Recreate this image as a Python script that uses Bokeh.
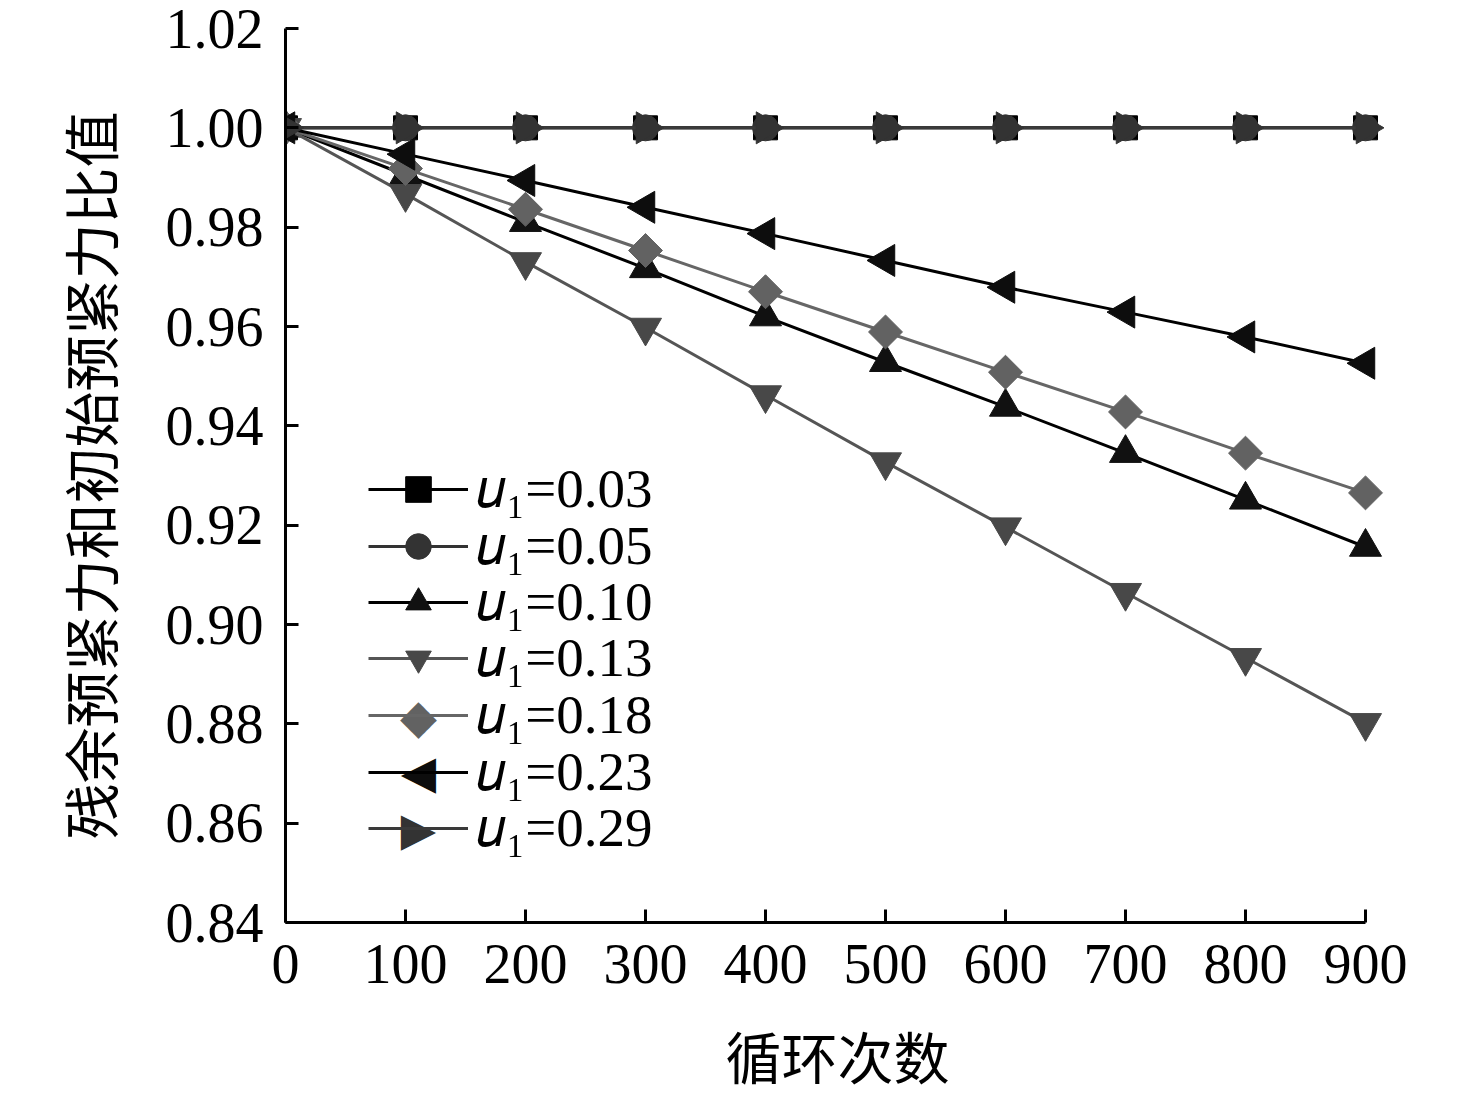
import math
from bokeh.plotting import figure
from bokeh.models import FixedTicker, PrintfTickFormatter, Legend, LegendItem, Label
from bokeh.embed import file_html
from bokeh.resources import INLINE

# ---- data ----
cycles = [0, 100, 200, 300, 400, 500, 600, 700, 800, 900]
u_labels = ["0.03", "0.05", "0.10", "0.13", "0.18", "0.23", "0.29"]
r_003 = [1.000, 1.000, 1.000, 1.000, 1.000, 1.000, 1.000, 1.000, 1.000, 1.000]
r_005 = [1.000, 1.000, 1.000, 1.000, 1.000, 1.000, 1.000, 1.000, 1.000, 1.000]
r_010 = [1.000, 0.9905, 0.9810, 0.9717, 0.9620, 0.9528, 0.9438, 0.9345, 0.9251, 0.9156]
r_013 = [1.000, 0.9867, 0.9730, 0.9598, 0.9462, 0.9327, 0.9196, 0.9064, 0.8933, 0.8802]
r_018 = [1.000, 0.9918, 0.9836, 0.9753, 0.9670, 0.9589, 0.9508, 0.9428, 0.9345, 0.9265]
r_023 = [1.000, 0.9947, 0.9894, 0.9840, 0.9787, 0.9733, 0.9679, 0.9629, 0.9579, 0.9526]
r_029 = [1.000, 1.000, 1.000, 1.000, 1.000, 1.000, 1.000, 1.000, 1.000, 1.000]
y_ticks = [0.84, 0.86, 0.88, 0.90, 0.92, 0.94, 0.96, 0.98, 1.00, 1.02]
x_ticks = [0, 100, 200, 300, 400, 500, 600, 700, 800, 900]

series = [r_003, r_005, r_010, r_013, r_018, r_023, r_029]
# sym: unicode symbol used for the legend sample where Bokeh's legend cannot rotate the marker
styles = [
    dict(marker="square", angle=0.0, size=24, fill="#000000", line="#000000", sym=None, fs=0),
    dict(marker="circle", angle=0.0, size=26, fill="#333333", line="#333333", sym=None, fs=0),
    dict(marker="triangle", angle=0.0, size=32, fill="#111111", line="#000000", sym=None, fs=0),
    dict(marker="inverted_triangle", angle=0.0, size=32, fill="#484848", line="#555555", sym=None, fs=0),
    dict(marker="square", angle=math.pi / 4, size=24, fill="#626262", line="#666666", sym="◆", fs=48),
    dict(marker="triangle", angle=math.pi / 2, size=32, fill="#0d0d0d", line="#000000", sym="◀", fs=46),
    dict(marker="triangle", angle=-math.pi / 2, size=32, fill="#333333", line="#3a3a3a", sym="▶", fs=46),
]

SERIF = "Liberation Serif"
CJK = "Noto Sans CJK SC"

p = figure(width=1460, height=1097, x_range=(0, 920), y_range=(0.84, 1.02),
           output_backend="svg", toolbar_location=None,
           min_border_left=285, min_border_right=71,
           min_border_top=28, min_border_bottom=174)

p.xgrid.visible = False
p.ygrid.visible = False
p.outline_line_color = None
p.background_fill_color = "white"
p.border_fill_color = "white"

# legend layout, in screen px measured from the frame's bottom-left corner
LEG_X = 83
GLYPH_W, ROW_H = 100, 64
PITCH = 56.5
TOP_CENTER = 433          # centre of the first legend row above the frame bottom

for i, (lab, ys, st) in enumerate(zip(u_labels, series, styles)):
    lr = p.line(cycles, ys, line_color=st["line"], line_width=3)
    sr = p.scatter(cycles, ys, marker=st["marker"], angle=st["angle"], size=st["size"],
                   fill_color=st["fill"], line_color=st["fill"], line_width=1)
    rends = [lr, sr] if st["sym"] is None else [lr]
    cy = TOP_CENTER - i * PITCH
    leg = Legend(items=[LegendItem(label="𝑢₁=" + lab, renderers=rends)],
                 location=(LEG_X, int(round(cy - ROW_H / 2))),
                 glyph_width=GLYPH_W, glyph_height=ROW_H, label_height=ROW_H,
                 label_standoff=8, spacing=0, padding=0, margin=0,
                 border_line_color=None, background_fill_alpha=0,
                 label_text_font=SERIF, label_text_font_size="55px",
                 label_text_color="#000000")
    p.add_layout(leg)
    if st["sym"] is not None:
        p.add_layout(Label(x=LEG_X + GLYPH_W / 2, y=cy, x_units="screen", y_units="screen",
                           text=st["sym"], text_align="center", text_baseline="middle",
                           text_font="DejaVu Sans", text_font_size=f"{st['fs']}px",
                           text_color=st["fill"]))

for ax in (p.xaxis[0], p.yaxis[0]):
    ax.axis_line_width = 3
    ax.axis_line_color = "black"
    ax.major_tick_line_width = 3
    ax.major_tick_line_color = "black"
    ax.major_tick_in = 13
    ax.major_tick_out = 0
    ax.minor_tick_line_color = None
    ax.major_label_text_font = SERIF
    ax.major_label_text_font_size = "56px"
    ax.major_label_text_color = "black"
    ax.axis_label_text_font = CJK
    ax.axis_label_text_font_size = "56px"
    ax.axis_label_text_font_style = "normal"
    ax.axis_label_text_color = "black"

p.xaxis.ticker = FixedTicker(ticks=x_ticks)
p.xaxis.bounds = (0, 900)
p.xaxis.major_label_standoff = 22
p.xaxis.axis_label = "循环次数"
p.xaxis.axis_label_standoff = 28

p.yaxis.ticker = FixedTicker(ticks=y_ticks)
p.yaxis.formatter = PrintfTickFormatter(format="%.2f")
p.yaxis.major_label_standoff = 22
p.yaxis.axis_label = "残余预紧力和初始预紧力比值"
p.yaxis.axis_label_standoff = 34

open("out.html", "w").write(file_html(p, INLINE))
